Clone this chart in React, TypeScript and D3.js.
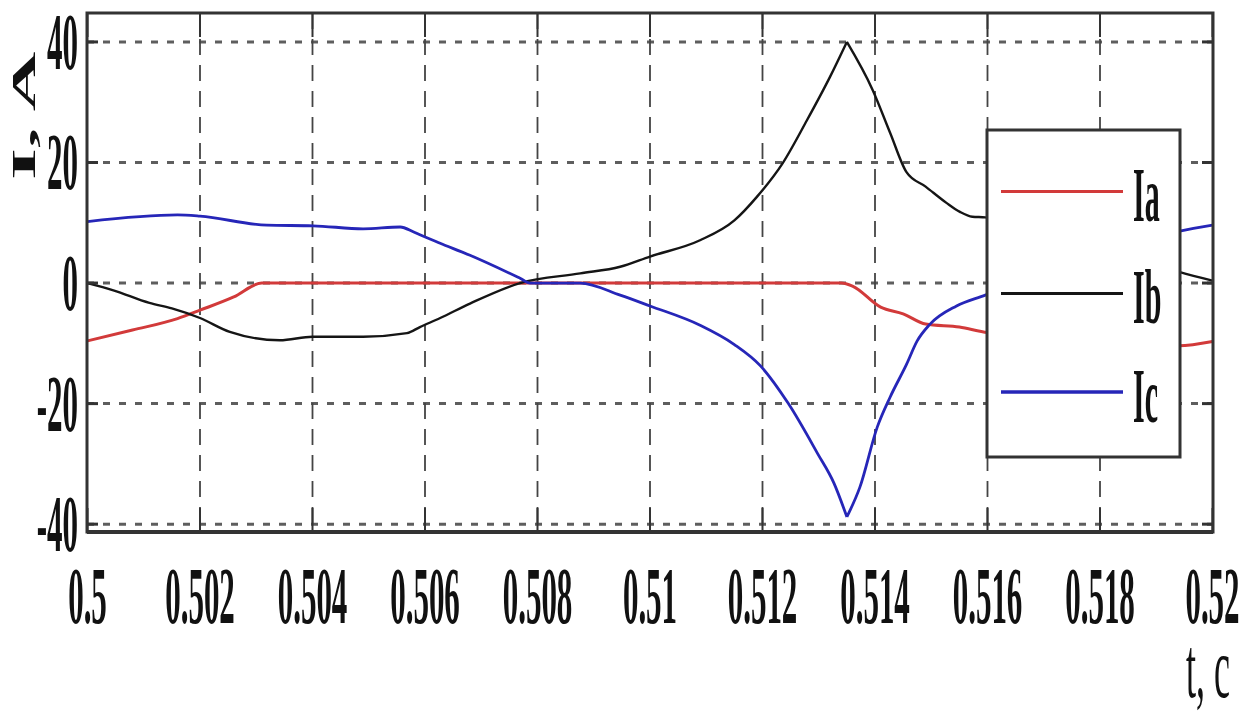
import React from 'react';
import * as d3 from 'd3';

// time points (s) and currents (A)
const timeA = [0.5, 0.5008, 0.5016, 0.502, 0.5026, 0.5031, 0.504, 0.506, 0.508, 0.51, 0.512, 0.5134, 0.5136, 0.5141, 0.5145, 0.5149, 0.5155, 0.516, 0.517, 0.518, 0.519, 0.5194, 0.52];
const currentA = [-9.6, -7.8, -5.9, -4.5, -2.3, 0, 0, 0, 0, 0, 0, 0, -0.5, -4.0, -5.1, -6.8, -7.3, -8.2, -8.8, -9.3, -9.8, -10.4, -9.7];

const timeB = [0.5, 0.50046, 0.5011, 0.5015, 0.502, 0.50253, 0.50342, 0.504, 0.5049, 0.50568, 0.50591, 0.50627, 0.5068, 0.50769, 0.50876, 0.50947, 0.51, 0.51089, 0.5115, 0.5119, 0.51236, 0.51279, 0.5132, 0.5135, 0.51396, 0.51427, 0.51456, 0.5149, 0.51527, 0.51551, 0.51573, 0.51596, 0.517, 0.518, 0.519, 0.51942, 0.52];
const currentB = [0, -1.2, -3.3, -4.2, -5.8, -8.1, -9.5, -8.9, -8.9, -8.3, -7.3, -5.8, -3.4, 0, 1.6, 2.7, 4.4, 7.1, 10.4, 14.3, 19.9, 27, 34.2, 40, 32, 24.9, 18.4, 16.0, 13.3, 11.8, 11.0, 10.9, 8, 5, 3, 1.8, 0.4];

const timeC = [0.5, 0.5016, 0.502, 0.50319, 0.50401, 0.5049, 0.50556, 0.50579, 0.50591, 0.50627, 0.5068, 0.50769, 0.50787, 0.50876, 0.50947, 0.51, 0.51089, 0.5115, 0.51196, 0.51246, 0.51298, 0.51327, 0.5135, 0.51373, 0.51404, 0.51427, 0.51456, 0.51475, 0.51497, 0.51545, 0.51596, 0.517, 0.518, 0.519, 0.51942, 0.52];
const currentC = [10.2, 11.3, 11.1, 9.6, 9.5, 9.0, 9.3, 8.5, 8.0, 6.6, 4.6, 0.8, 0, 0, -2.0, -3.8, -7.0, -10.2, -13.7, -20, -28.3, -33.2, -38.8, -33.9, -23.9, -18.9, -13.5, -9.6, -6.9, -3.8, -2.0, 2, 5.5, 7.5, 8.6, 9.6];

const xTicks = [0.5, 0.502, 0.504, 0.506, 0.508, 0.51, 0.512, 0.514, 0.516, 0.518, 0.52];
const xTickLabels = ['0.5', '0.502', '0.504', '0.506', '0.508', '0.51', '0.512', '0.514', '0.516', '0.518', '0.52'];
const yTicks = [-40, -20, 0, 20, 40];
const yTickLabels = ['-40', '-20', '0', '20', '40'];
const seriesNames = ['Ia', 'Ib', 'Ic'];
const seriesColors = ['#d23a3a', '#151515', '#2626b8'];

const left = 87, right = 1213, top = 13, bottom = 532;
const font = '"Liberation Serif", "Times New Roman", serif';

type Pt = [number, number];

// split at the largest excursion so the spike keeps its sharp tip
function pieces(pts: Pt[]): Pt[][] {
  let k = 0;
  pts.forEach((p, i) => { if (Math.abs(p[1]) > Math.abs(pts[k][1])) k = i; });
  if (k === 0 || k === pts.length - 1) return [pts];
  return [pts.slice(0, k + 1), pts.slice(k)];
}

export default function App() {
  const x = d3.scaleLinear().domain([0.5, 0.52]).range([87.5, 1212.5]);
  const y = d3.scaleLinear().domain([-41.3, 44.8]).range([bottom, top]);

  const line = d3.line<Pt>()
    .x(d => x(d[0]))
    .y(d => y(d[1]))
    .curve(d3.curveMonotoneX);

  const series = [
    { name: seriesNames[0], color: seriesColors[0], width: 3, pts: timeA.map((t, i) => [t, currentA[i]] as Pt), split: false },
    { name: seriesNames[1], color: seriesColors[1], width: 2.4, pts: timeB.map((t, i) => [t, currentB[i]] as Pt), split: true },
    { name: seriesNames[2], color: seriesColors[2], width: 2.8, pts: timeC.map((t, i) => [t, currentC[i]] as Pt), split: true },
  ];

  const legendX = 987, legendY = 130, legendW = 193, legendH = 327;
  const legendRows = [191.5, 293.5, 392];

  return (
    <div style={{ position: 'absolute', left: 0, top: 0 }}>
      <svg width={1256} height={711} style={{ display: 'block', background: '#fff' }}>
        <rect width={1256} height={711} fill="#fff" />

        {/* grid */}
        {yTicks.map(v => (
          <line key={'gy' + v} x1={left} x2={right} y1={y(v)} y2={y(v)}
            stroke="#5e5e5e" strokeWidth={3} strokeDasharray="7,9" />
        ))}
        {xTicks.slice(1, -1).map(v => (
          <line key={'gx' + v} x1={x(v)} x2={x(v)} y1={top} y2={bottom}
            stroke="#444" strokeWidth={1.8} strokeDasharray="16,10" />
        ))}

        {/* curves */}
        {series.map(s => (
          <path key={s.name}
            d={(s.split ? pieces(s.pts) : [s.pts]).map(p => line(p) || '').join('')}
            fill="none" stroke={s.color} strokeWidth={s.width} strokeLinejoin="round" />
        ))}

        {/* ticks */}
        {yTicks.map(v => (
          <g key={'ty' + v} stroke="#333" strokeWidth={3}>
            <line x1={left} x2={left + 11} y1={y(v)} y2={y(v)} />
            <line x1={right - 11} x2={right} y1={y(v)} y2={y(v)} />
          </g>
        ))}
        {xTicks.map(v => (
          <g key={'tx' + v} stroke="#333" strokeWidth={2}>
            <line x1={x(v)} x2={x(v)} y1={top} y2={top + 24} />
            <line x1={x(v)} x2={x(v)} y1={bottom - 24} y2={bottom} />
          </g>
        ))}

        {/* frame */}
        <rect x={left} y={top} width={right - left} height={bottom - top}
          fill="none" stroke="#333" strokeWidth={3} />
        <line x1={left} x2={right} y1={bottom} y2={bottom} stroke="#333" strokeWidth={4} />

        {/* legend */}
        <rect x={legendX} y={legendY} width={legendW} height={legendH}
          fill="#fff" stroke="#333" strokeWidth={3} />
        {series.map((s, i) => (
          <g key={'lg' + s.name}>
            <line x1={1001} x2={1123} y1={legendRows[i]} y2={legendRows[i]}
              stroke={s.color} strokeWidth={i === 2 ? 3.5 : 2.8} />
            <text transform={`translate(1133,${legendRows[i] + 29.5}) scale(1,2.6)`}
              fontFamily={font} fontWeight="bold" fontSize={30} fill="#111">{s.name}</text>
          </g>
        ))}

        {/* tick labels */}
        {xTicks.map((v, i) => (
          <text key={'lx' + v} transform={`translate(${x(v)},623) scale(1,2.6)`}
            textAnchor="middle" fontFamily={font} fontWeight="bold" fontSize={31} fill="#111">
            {xTickLabels[i]}
          </text>
        ))}
        {yTicks.map((v, i) => (
          <text key={'ly' + v} transform={`translate(78,${y(v) + 27}) scale(1,2.6)`}
            textAnchor="end" fontFamily={font} fontWeight="bold" fontSize={31} fill="#111">
            {yTickLabels[i]}
          </text>
        ))}

        {/* axis titles */}
        <text transform="translate(35,180) scale(1,2.5) rotate(-90)"
          fontFamily={font} fontWeight="bold" fontSize={33} fill="#111">I, A</text>
        <text transform="translate(1186,697) scale(1,2.4)"
          fontFamily={font} fontSize={36} fill="#111">t, c</text>
      </svg>
    </div>
  );
}
